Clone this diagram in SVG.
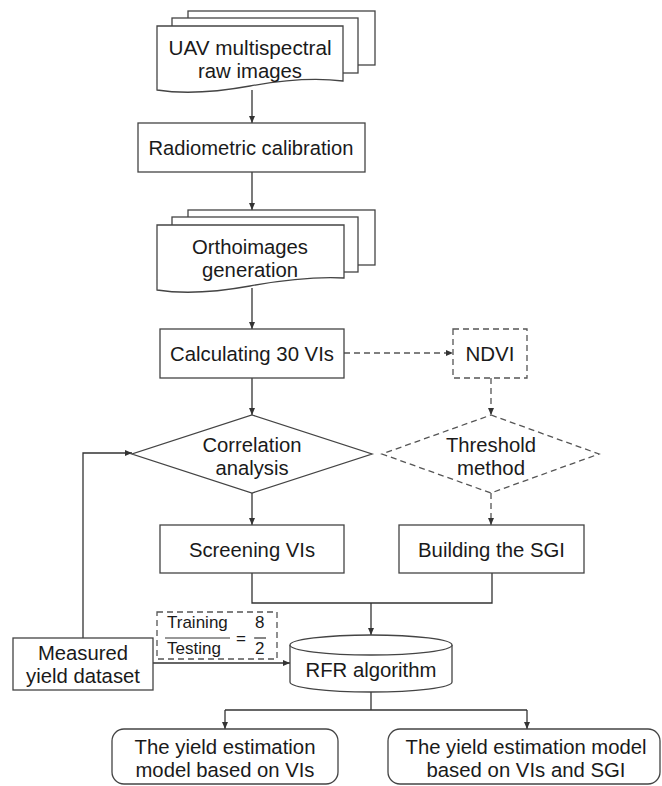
<svg xmlns="http://www.w3.org/2000/svg" width="662" height="786" viewBox="0 0 662 786">
<defs>
<marker id="arr" markerWidth="8" markerHeight="8" refX="7" refY="4" orient="auto" markerUnits="userSpaceOnUse">
<path d="M0,1 L7,4 L0,7 Z" fill="#333"/>
</marker>
<style>
.s{fill:#fff;stroke:#444;stroke-width:1.3}
.d{fill:#fff;stroke:#555;stroke-width:1.3;stroke-dasharray:6,4}
.t{font-family:"Liberation Sans",Arial,sans-serif;font-size:20.5px;fill:#1a1a1a;text-anchor:middle}
.f{font-family:"Liberation Sans",Arial,sans-serif;font-size:17px;fill:#1a1a1a}
.c{fill:none;stroke:#333;stroke-width:1.3}
.cd{fill:none;stroke:#555;stroke-width:1.3;stroke-dasharray:6,4}
</style>
</defs>
<rect width="662" height="786" fill="#fff"/>
<g id="connectors">
<line class="c" x1="252" y1="90" x2="252" y2="123" marker-end="url(#arr)"/>
<line class="c" x1="252" y1="172" x2="252" y2="210" marker-end="url(#arr)"/>
<line class="c" x1="252" y1="288" x2="252" y2="329" marker-end="url(#arr)"/>
<line class="c" x1="252" y1="378" x2="252" y2="415" marker-end="url(#arr)"/>
<line class="c" x1="252" y1="493" x2="252" y2="525" marker-end="url(#arr)"/>
<line class="cd" x1="344" y1="353" x2="453" y2="353" marker-end="url(#arr)"/>
<line class="cd" x1="491" y1="378" x2="491" y2="415" marker-end="url(#arr)"/>
<line class="cd" x1="491" y1="493" x2="491" y2="525" marker-end="url(#arr)"/>
<polyline class="c" points="252,573 252,603 492,603 492,573"/>
<line class="c" x1="371" y1="603" x2="371" y2="635" marker-end="url(#arr)"/>
<polyline class="c" points="83,638 83,453 132,453" marker-end="url(#arr)"/>
<line class="c" x1="153" y1="663" x2="290" y2="663" marker-end="url(#arr)"/>
<line class="c" x1="371" y1="692" x2="371" y2="710"/>
<line class="c" x1="225" y1="710" x2="527" y2="710"/>
<line class="c" x1="225" y1="710" x2="225" y2="729" marker-end="url(#arr)"/>
<line class="c" x1="527" y1="710" x2="527" y2="729" marker-end="url(#arr)"/>
</g>
<g id="n_raw">
<rect class="s" x="188" y="11" width="187" height="54"/>
<rect class="s" x="172" y="18" width="186" height="55"/>
<path class="s" d="M157,26 H343 V81 Q305,76 250,86 Q195,96 157,90 Z"/>
<text class="t" x="250" y="55" textLength="163" lengthAdjust="spacingAndGlyphs">UAV multispectral</text>
<text class="t" x="250" y="78" textLength="104" lengthAdjust="spacingAndGlyphs">raw images</text>
</g>
<g id="n_radio">
<rect class="s" x="138" y="123" width="227" height="49"/>
<text class="t" x="251" y="155" textLength="205" lengthAdjust="spacingAndGlyphs">Radiometric calibration</text>
</g>
<g id="n_ortho">
<rect class="s" x="188" y="210" width="187" height="55"/>
<rect class="s" x="172" y="217" width="186" height="55"/>
<path class="s" d="M157,225 H344 V278 Q305,276 250,286 Q195,296 157,290 Z"/>
<text class="t" x="250" y="254" textLength="116" lengthAdjust="spacingAndGlyphs">Orthoimages</text>
<text class="t" x="250" y="277" textLength="96" lengthAdjust="spacingAndGlyphs">generation</text>
</g>
<g id="n_calc">
<rect class="s" x="160" y="329" width="184" height="49"/>
<text class="t" x="252" y="361" textLength="164" lengthAdjust="spacingAndGlyphs">Calculating 30 VIs</text>
</g>
<g id="n_ndvi">
<rect class="d" x="453" y="329" width="74" height="49"/>
<text class="t" x="490" y="361" textLength="49" lengthAdjust="spacingAndGlyphs">NDVI</text>
</g>
<g id="n_corr">
<polygon class="s" points="252,415 372,454 252,493 132,454"/>
<text class="t" x="252" y="452" textLength="99" lengthAdjust="spacingAndGlyphs">Correlation</text>
<text class="t" x="252" y="475" textLength="73" lengthAdjust="spacingAndGlyphs">analysis</text>
</g>
<g id="n_thresh">
<polygon class="d" points="491,415 599,454 491,493 382,454"/>
<text class="t" x="491" y="452" textLength="90" lengthAdjust="spacingAndGlyphs">Threshold</text>
<text class="t" x="491" y="475" textLength="68" lengthAdjust="spacingAndGlyphs">method</text>
</g>
<g id="n_screen">
<rect class="s" x="160" y="525" width="184" height="48"/>
<text class="t" x="252" y="557" textLength="126" lengthAdjust="spacingAndGlyphs">Screening VIs</text>
</g>
<g id="n_sgi">
<rect class="s" x="399" y="525" width="185" height="48"/>
<text class="t" x="491.5" y="557" textLength="147" lengthAdjust="spacingAndGlyphs">Building the SGI</text>
</g>
<g id="n_ratio">
<rect class="d" x="157" y="612" width="120" height="47"/>
<text class="f" x="167" y="628">Training</text>
<text class="f" x="167" y="654">Testing</text>
<line x1="165" y1="638" x2="230" y2="638" stroke="#333" stroke-width="1.2"/>
<text class="f" x="236" y="644">=</text>
<text class="f" x="255" y="628">8</text>
<text class="f" x="255" y="654">2</text>
<line x1="254" y1="638" x2="266" y2="638" stroke="#333" stroke-width="1.2"/>
</g>
<g id="n_measured">
<rect class="s" x="13" y="638" width="140" height="52"/>
<text class="t" x="83" y="660" textLength="90" lengthAdjust="spacingAndGlyphs">Measured</text>
<text class="t" x="83" y="683" textLength="114" lengthAdjust="spacingAndGlyphs">yield dataset</text>
</g>
<g id="n_rfr">
<path class="s" d="M290,645 V682 A81,10 0 0 0 452,682 V645"/>
<ellipse class="s" cx="371" cy="645" rx="81" ry="10"/>
<text class="t" x="371" y="677" textLength="131" lengthAdjust="spacingAndGlyphs">RFR algorithm</text>
</g>
<g id="n_model1">
<rect class="s" x="112" y="729" width="226" height="55" rx="12"/>
<text class="t" x="225" y="754" textLength="181" lengthAdjust="spacingAndGlyphs">The yield estimation</text>
<text class="t" x="225" y="777" textLength="179" lengthAdjust="spacingAndGlyphs">model based on VIs</text>
</g>
<g id="n_model2">
<rect class="s" x="388" y="729" width="272" height="55" rx="12"/>
<text class="t" x="526" y="754" textLength="241" lengthAdjust="spacingAndGlyphs">The yield estimation model</text>
<text class="t" x="526" y="777" textLength="199" lengthAdjust="spacingAndGlyphs">based on VIs and SGI</text>
</g>
</svg>
